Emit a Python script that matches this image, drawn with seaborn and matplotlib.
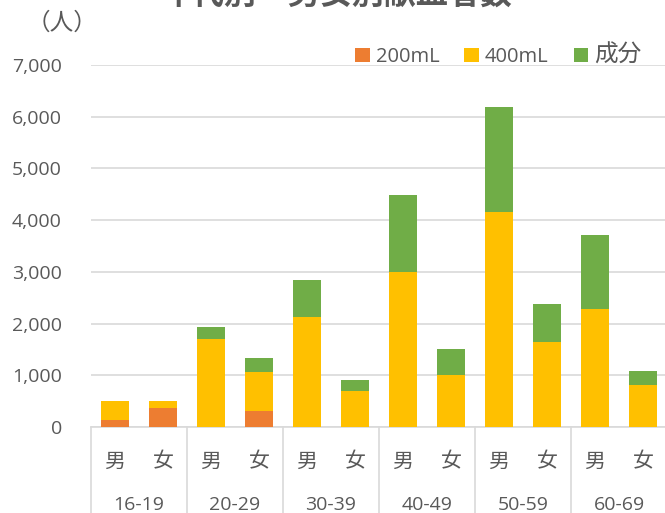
import matplotlib
matplotlib.use("Agg")
import matplotlib.pyplot as plt
import seaborn as sns
import pandas as pd
import numpy as np
from matplotlib.patches import Patch
import matplotlib.transforms as mtransforms

# ---- data ----
age_groups = ['16-19', '20-29', '30-39', '40-49', '50-59', '60-69']
sexes = ['男', '女']
ml200 = [140, 375, 0, 310, 0, 0, 0, 0, 0, 0, 0, 0]
ml400 = [360, 125, 1705, 750, 2135, 690, 2990, 1015, 4165, 1650, 2280, 810]
component = [0, 0, 225, 270, 710, 215, 1490, 485, 2020, 730, 1430, 265]
series_names = ['200mL', '400mL', '成分']
colors = ['#ED7D31', '#FFC000', '#70AD47']
yticks = [0, 1000, 2000, 3000, 4000, 5000, 6000, 7000]
title = '年代別・男女別献血者数'
unit = '（人）'

sns.set_theme(style='white')
plt.rcParams['font.family'] = ['Open Sans', 'Noto Sans CJK JP', 'DejaVu Sans']
TXT = '#595959'
GRID = '#D9D9D9'

keys = [f'{a}{s}' for a in age_groups for s in sexes]
c1 = np.array(ml200)
c2 = c1 + np.array(ml400)
c3 = c2 + np.array(component)
df = pd.DataFrame({'key': keys, 'c1': c1, 'c2': c2, 'c3': c3})

W, H = 665, 513
fig = plt.figure(figsize=(W / 100, H / 100), dpi=100)
x0, x1, y0, y1 = 91, 667, 427, 65
ax = fig.add_axes([x0 / W, 1 - y0 / H, (x1 - x0) / W, (y0 - y1) / H])

for col, colr in zip(['c3', 'c2', 'c1'], colors[::-1]):
    sns.barplot(data=df, x='key', y=col, order=keys, color=colr, saturation=1,
                width=0.6, errorbar=None, ax=ax, zorder=3, linewidth=0)

ax.set_xlim(-0.5, len(keys) - 0.5)
ax.set_ylim(0, 7000)
ax.set_yticks(yticks)
ax.set_yticklabels([f'{v:,}' for v in yticks], color=TXT, fontsize=14)
ax.tick_params(axis='y', length=0, pad=21)
ax.set_xticks([])
ax.set_xlabel('')
ax.set_ylabel('')
for s in ['top', 'right', 'left']:
    ax.spines[s].set_visible(False)
ax.spines['bottom'].set_color(GRID)
ax.spines['bottom'].set_linewidth(1.2)
ax.yaxis.grid(True, color=GRID, linewidth=1.2, zorder=0)
ax.set_axisbelow(True)

trans = mtransforms.blended_transform_factory(ax.transData, ax.transAxes)
ah = (y0 - y1)
for i in range(len(age_groups) + 1):
    xb = -0.5 + 2 * i
    ax.plot([xb, xb], [0, -(H - y0) / ah - 0.01], transform=trans, color=GRID,
            linewidth=1.2, clip_on=False)
for i, k in enumerate(keys):
    ax.text(i, -(462 - y0) / ah, sexes[i % 2], transform=trans, ha='center', va='center',
            fontsize=15, color=TXT)
for g, a in enumerate(age_groups):
    ax.text(2 * g + 0.5, -(505 - y0) / ah, a, transform=trans, ha='center', va='center',
            fontsize=14, color=TXT)

fig.text(337 / W, 1 - (-5) / H, title, ha='center', va='center', fontsize=23,
         fontweight='bold', color=TXT)
fig.text(27 / W, 1 - 24 / H, unit, ha='left', va='center', fontsize=17, color=TXT)

handles = [Patch(facecolor=c, edgecolor='none') for c in colors]
leg = fig.legend(handles, series_names, loc='center left', bbox_to_anchor=(355 / W, 1 - 56 / H),
                 ncol=3, frameon=False, fontsize=14.5, handlelength=0.72, handleheight=0.72,
                 handletextpad=0.3, columnspacing=1.25, borderaxespad=0, borderpad=0)
for t in leg.get_texts():
    t.set_color(TXT)
leg.get_texts()[2].set_fontsize(17)

fig.savefig('out.png', dpi=100)
